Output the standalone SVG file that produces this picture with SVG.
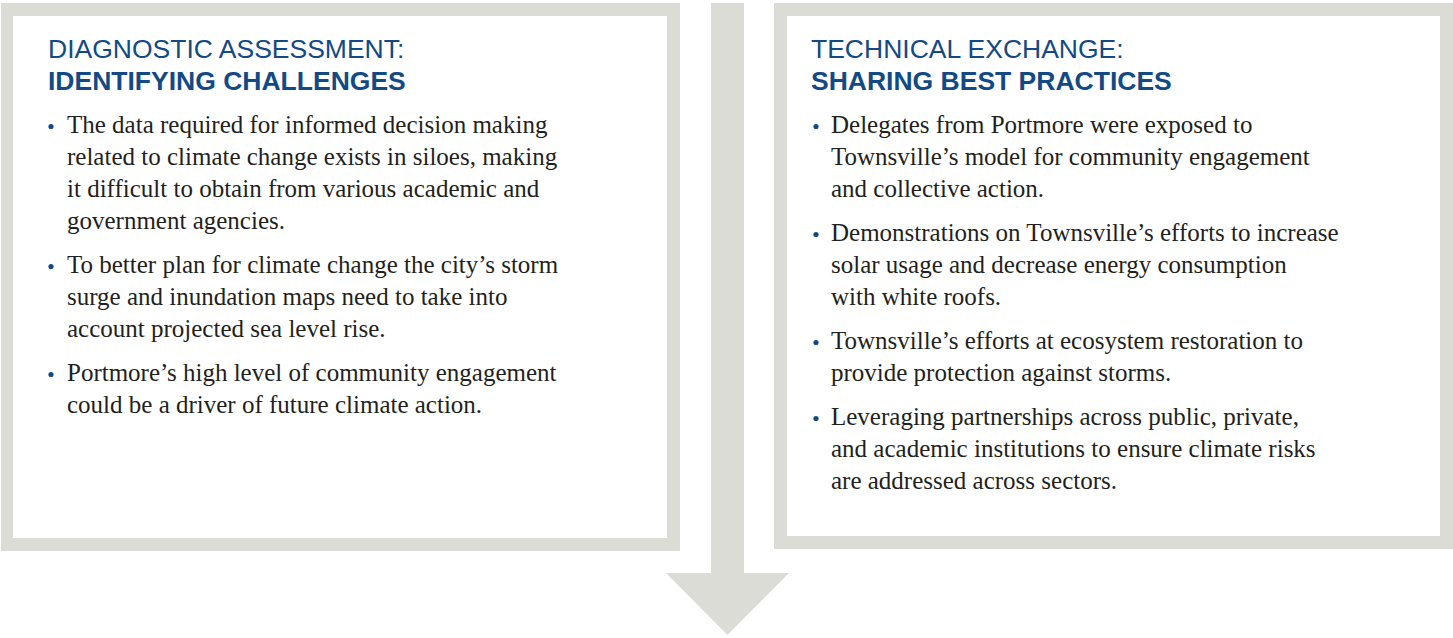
<svg xmlns="http://www.w3.org/2000/svg" width="1453" height="638" viewBox="0 0 1453 638">
<style>
.frame{fill:#dcdcd7}
.inner{fill:#ffffff}
.h1{font-family:"Liberation Sans",Arial,sans-serif;font-size:26.5px;fill:#134a85}
.h2{font-family:"Liberation Sans",Arial,sans-serif;font-size:26.5px;font-weight:bold;fill:#134a85}
.body{font-family:"Liberation Serif","Times New Roman",serif;font-size:25px;fill:#231f20}
.dot{fill:#134a85}
</style>
<rect width="1453" height="638" fill="#ffffff"/>
<g id="connectors">
  <rect class="frame" x="711" y="3" width="33" height="571"/>
  <polygon class="frame" points="666,573 789,573 727.5,635"/>
</g>
<g id="node-diagnostic">
  <rect class="frame" x="1" y="3" width="679" height="548"/>
  <rect class="inner" x="13" y="16" width="654" height="522"/>
  <text class="h1" x="48" y="58">DIAGNOSTIC ASSESSMENT:</text>
  <text class="h2" x="48" y="90">IDENTIFYING CHALLENGES</text>
  <circle class="dot" cx="51" cy="126.5" r="2.6"/>
  <circle class="dot" cx="51" cy="266.5" r="2.6"/>
  <circle class="dot" cx="51" cy="374.5" r="2.6"/>
  <text class="body">
    <tspan x="67" y="133">The data required for informed decision making</tspan>
    <tspan x="67" y="165">related to climate change exists in siloes, making</tspan>
    <tspan x="67" y="197">it difficult to obtain from various academic and</tspan>
    <tspan x="67" y="229">government agencies.</tspan>
    <tspan x="67" y="273">To better plan for climate change the city’s storm</tspan>
    <tspan x="67" y="305">surge and inundation maps need to take into</tspan>
    <tspan x="67" y="337">account projected sea level rise.</tspan>
    <tspan x="67" y="381">Portmore’s high level of community engagement</tspan>
    <tspan x="67" y="413">could be a driver of future climate action.</tspan>
  </text>
</g>
<g id="node-technical">
  <rect class="frame" x="774" y="3" width="679" height="546"/>
  <rect class="inner" x="787" y="16" width="653" height="520"/>
  <text class="h1" x="811" y="58">TECHNICAL EXCHANGE:</text>
  <text class="h2" x="811" y="90">SHARING BEST PRACTICES</text>
  <circle class="dot" cx="816" cy="126.5" r="2.6"/>
  <circle class="dot" cx="816" cy="234.5" r="2.6"/>
  <circle class="dot" cx="816" cy="342.5" r="2.6"/>
  <circle class="dot" cx="816" cy="418.5" r="2.6"/>
  <text class="body">
    <tspan x="831" y="133">Delegates from Portmore were exposed to</tspan>
    <tspan x="831" y="165">Townsville’s model for community engagement</tspan>
    <tspan x="831" y="197">and collective action.</tspan>
    <tspan x="831" y="241">Demonstrations on Townsville’s efforts to increase</tspan>
    <tspan x="831" y="273">solar usage and decrease energy consumption</tspan>
    <tspan x="831" y="305">with white roofs.</tspan>
    <tspan x="831" y="349">Townsville’s efforts at ecosystem restoration to</tspan>
    <tspan x="831" y="381">provide protection against storms.</tspan>
    <tspan x="831" y="425">Leveraging partnerships across public, private,</tspan>
    <tspan x="831" y="457">and academic institutions to ensure climate risks</tspan>
    <tspan x="831" y="489">are addressed across sectors.</tspan>
  </text>
</g>
</svg>
